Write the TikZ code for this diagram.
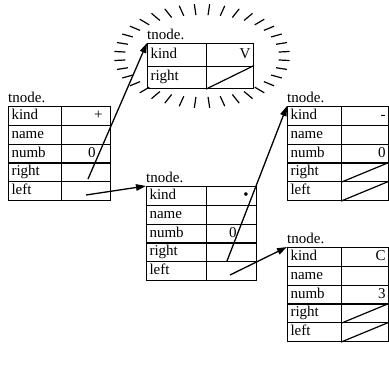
\documentclass[tikz,border=0pt]{standalone}
\usepackage{fontspec}
\setmainfont{Liberation Serif}
\usetikzlibrary{arrows.meta}
\tikzset{
  cell/.style={draw, line width=1.1bp, anchor=north west, inner xsep=3bp, inner ysep=0pt,
               text height=10bp, text depth=3bp, font=\fontsize{15bp}{17bp}\selectfont},
  lab/.style={cell, align=left},
  val/.style={cell, align=right},
  ttl/.style={anchor=base west, inner sep=0pt, font=\fontsize{15bp}{17bp}\selectfont},
  arr/.style={line width=1.3bp, -{Triangle[length=10bp,width=6.5bp]}},
  hatch/.style={line width=1.2bp},
  slash/.style={line width=1.2bp},
}
\newcommand\tnodebox[7]{%
  \pgfmathsetmacro\lwt{#4-6}\pgfmathsetmacro\vwt{#5-6}%
  \node[ttl] (#1-t) at (#2,#3-3.5) {tnode.};
  \foreach \l/\v [count=\i] in {#7}{
    \pgfmathsetmacro\yy{#3+(\i-1)*#6}
    \node[lab, text width=\lwt bp, minimum height=#6bp] (#1-\l) at (#2,\yy) {\l};
    \node[val, text width=\vwt bp, minimum height=#6bp] (#1-\l-v) at (#2+#4,\yy) {\v};
  }
}
\begin{document}
\begin{tikzpicture}[x=1bp,y=-1bp]
\useasboundingbox (0,0) rectangle (389,378);
% hatched ellipse (radial ticks)
\foreach \a in {5,15,...,355}{
  \pgfmathsetmacro\px{88*cos(\a)}
  \pgfmathsetmacro\py{52*sin(\a)}
  \pgfmathsetmacro\pr{sqrt(\px*\px+\py*\py)}
  \pgfmathsetmacro\f{1-11/\pr}
  \draw[hatch] ({202+\f*\px},{56+\f*\py}) -- ({202+\px},{56+\py});
}
% top node
\tnodebox{T}{147}{43}{59}{47}{22.5}{kind/V,right/}
% left node
\tnodebox{L}{8}{106}{53}{49}{18.8}{kind/{+\rule{5bp}{0pt}},name/,numb/{0\rule{12bp}{0pt}},right/,left/}
% middle node
\tnodebox{M}{146}{186}{60}{50}{18.8}{kind/{\textbullet\rule{5bp}{0pt}},name/,numb/{0\rule{17bp}{0pt}},right/,left/}
% right top node
\tnodebox{R}{287}{106}{54}{47}{18.8}{kind/-,name/,numb/0,right/,left/}
% right bottom node
\tnodebox{B}{287}{247}{54}{47}{18.8}{kind/C,name/,numb/3,right/,left/}
% nil slashes
\draw[slash] (T-right-v.south west) -- (T-right-v.north east);
\draw[slash] (R-right-v.south west) -- (R-right-v.north east);
\draw[slash] (R-left-v.south west) -- (R-left-v.north east);
\draw[slash] (B-right-v.south west) -- (B-right-v.north east);
\draw[slash] (B-left-v.south west) -- (B-left-v.north east);
% pointers
\coordinate (p1) at (88,179);
\coordinate (p2) at (86,195);
\coordinate (p3) at (227,261);
\coordinate (p4) at (230,275);
\draw[arr] (p1) -- (T-kind.north west);
\draw[arr] (p2) -- (M-kind.north west);
\draw[arr] (p3) -- (R-kind.north west);
\draw[arr] (p4) -- (B-kind.north west);
\end{tikzpicture}
\end{document}
